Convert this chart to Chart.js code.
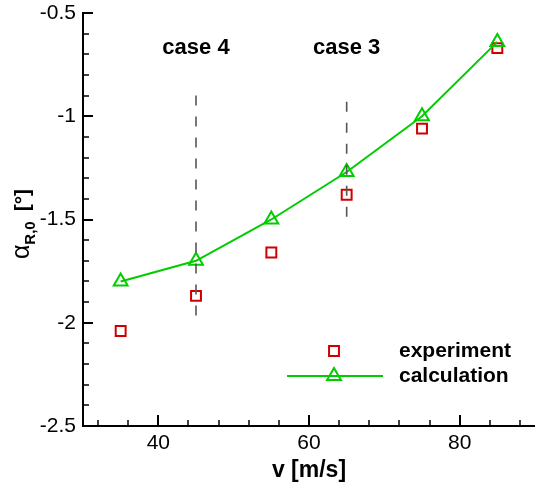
<!DOCTYPE html>
<html>
<head>
<meta charset="utf-8">
<script src="https://cdn.jsdelivr.net/npm/chart.js@4.4.0/dist/chart.umd.min.js"></script>
<style>
  html, body { margin: 0; padding: 0; background: #fff; overflow: hidden; }
  canvas { display: block; }
</style>
</head>
<body>
<canvas id="alphaChart" width="535" height="484"></canvas>
<script>
// speeds and angles
const speeds = [35, 45, 55, 65, 75, 85];
const experiment = [-2.04, -1.87, -1.66, -1.38, -1.06, -0.67];
const calculation = [-1.80, -1.70, -1.50, -1.27, -1.00, -0.64];

// dashed markers for the two cases
const case4Line = [{ x: 45, y: -0.9 }, { x: 45, y: -2.0 }];
const case3Line = [{ x: 65, y: -0.93 }, { x: 65, y: -1.5 }];
const caseLabels = [
    { text: 'case 4', x: 45, y: -0.67 },
    { text: 'case 3', x: 65, y: -0.67 }
];

// axis ticks
const xMajorTicks = [40, 60, 80];
const xMinorTicks = [32, 36, 44, 48, 52, 56, 64, 68, 72, 76, 84, 88];
const yMajorTicks = [-0.5, -1, -1.5, -2, -2.5];
const yMinorTicks = [-0.6, -0.7, -0.8, -0.9, -1.1, -1.2, -1.3, -1.4, -1.6, -1.7, -1.8, -1.9, -2.1, -2.2, -2.3, -2.4];

const RED = '#d00000';
const GREEN = '#00cc00';
const FONT = "'Liberation Sans', Arial, Helvetica, sans-serif";

function toPoints(xs, ys) {
    return xs.map((x, i) => ({ x: x, y: ys[i] }));
}

// 눈금 (안쪽으로)
const tickMarks = {
    id: 'tickMarks',
    afterDraw(chart) {
        const ctx = chart.ctx;
        const xs = chart.scales.x;
        const ys = chart.scales.y;
        const left = chart.chartArea.left;
        const bottom = chart.chartArea.bottom;
        ctx.save();
        ctx.strokeStyle = '#000';
        const draw = (list, len, w, vertical) => {
            ctx.lineWidth = w;
            list.forEach(v => {
                ctx.beginPath();
                if (vertical) {
                    const px = Math.round(xs.getPixelForValue(v));
                    ctx.moveTo(px, bottom);
                    ctx.lineTo(px, bottom - len);
                } else {
                    const py = Math.round(ys.getPixelForValue(v));
                    ctx.moveTo(left, py);
                    ctx.lineTo(left + len, py);
                }
                ctx.stroke();
            });
        };
        draw(xMajorTicks, 11, 2, true);
        draw(xMinorTicks, 6, 1.5, true);
        draw(yMajorTicks, 10, 2, false);
        draw(yMinorTicks, 6, 1.5, false);
        ctx.restore();
    }
};

// 텍스트 주석, 범례, y축 제목
const annotations = {
    id: 'annotations',
    afterDraw(chart) {
        const ctx = chart.ctx;
        const xs = chart.scales.x;
        const ys = chart.scales.y;
        ctx.save();
        ctx.fillStyle = '#000';
        ctx.textAlign = 'center';
        ctx.textBaseline = 'middle';
        ctx.font = 'bold 22px ' + FONT;
        caseLabels.forEach(c => {
            ctx.fillText(c.text, xs.getPixelForValue(c.x), ys.getPixelForValue(c.y));
        });

        // 범례
        const exp = chart.data.datasets[0];
        const calc = chart.data.datasets[1];
        ctx.textAlign = 'left';
        ctx.font = 'bold 21px ' + FONT;
        ctx.fillText(exp.label, 399, 351);
        ctx.fillText(calc.label, 399, 376);
        ctx.strokeStyle = calc.borderColor;
        ctx.lineWidth = calc.borderWidth;
        ctx.beginPath();
        ctx.moveTo(287, 376);
        ctx.lineTo(383, 376);
        ctx.stroke();
        ctx.fillStyle = 'rgba(255,255,255,0)';
        ctx.lineWidth = 2;
        ctx.strokeStyle = exp.pointBorderColor;
        Chart.helpers.drawPoint(ctx, { pointStyle: 'rect', radius: exp.pointRadius, borderWidth: 2 }, 334, 351);
        ctx.strokeStyle = calc.pointBorderColor;
        Chart.helpers.drawPoint(ctx, { pointStyle: 'triangle', radius: calc.pointRadius, borderWidth: 2 }, 334, 376);

        // y축 제목: α_R,0 [°]
        ctx.fillStyle = '#000';
        ctx.translate(29, 224);
        ctx.rotate(-Math.PI / 2);
        ctx.textBaseline = 'alphabetic';
        const mainFont = '25px ' + FONT;
        const subFont = 'bold 15px ' + FONT;
        const bracketFont = 'bold 21px ' + FONT;
        const gap = 10;
        ctx.font = mainFont;
        const wA = ctx.measureText('α').width;
        ctx.font = subFont;
        const wS = ctx.measureText('R,0').width;
        ctx.font = bracketFont;
        const wB = ctx.measureText('[°]').width;
        let x0 = -(wA + wS + gap + wB) / 2;
        ctx.font = mainFont;
        ctx.fillText('α', x0, 0);
        x0 += wA;
        ctx.font = subFont;
        ctx.fillText('R,0', x0, 6);
        x0 += wS + gap;
        ctx.font = bracketFont;
        ctx.fillText('[°]', x0, 0);
        ctx.restore();
    }
};

const ctx = document.getElementById('alphaChart').getContext('2d');
new Chart(ctx, {
    type: 'scatter',
    data: {
        datasets: [{
            label: 'experiment',
            data: toPoints(speeds, experiment),
            showLine: false,
            pointStyle: 'rect',
            pointRadius: 7,
            pointBorderWidth: 2,
            pointBorderColor: RED,
            pointBackgroundColor: 'rgba(255,255,255,0)',
            order: 2
        }, {
            label: 'calculation',
            data: toPoints(speeds, calculation),
            showLine: true,
            borderColor: GREEN,
            borderWidth: 2,
            pointStyle: 'triangle',
            pointRadius: 8,
            pointBorderWidth: 2,
            pointBorderColor: GREEN,
            pointBackgroundColor: 'rgba(255,255,255,0)',
            order: 1
        }, {
            label: 'case 4',
            data: case4Line,
            showLine: true,
            borderColor: '#555',
            borderWidth: 1.6,
            borderDash: [10, 11],
            pointRadius: 0
        }, {
            label: 'case 3',
            data: case3Line,
            showLine: true,
            borderColor: '#555',
            borderWidth: 1.6,
            borderDash: [10, 11],
            pointRadius: 0
        }]
    },
    options: {
        responsive: false,
        animation: false,
        layout: { autoPadding: false, padding: { top: 13, right: 0, left: 0, bottom: 0 } },
        plugins: {
            legend: { display: false },
            tooltip: { enabled: false }
        },
        scales: {
            x: {
                type: 'linear',
                min: 30,
                max: 90,
                afterBuildTicks: scale => { scale.ticks = xMajorTicks.map(v => ({ value: v })); },
                afterFit: scale => {
                    scale.height = 58;
                    scale.paddingLeft = 0;
                    scale.paddingRight = 0;
                },
                grid: { display: false, drawTicks: false },
                border: { display: true, color: '#000', width: 2 },
                ticks: {
                    padding: 5,
                    color: '#000',
                    font: { family: FONT, size: 21 }
                },
                title: {
                    display: true,
                    text: 'v [m/s]',
                    color: '#000',
                    padding: { top: 0, bottom: 0 },
                    font: { family: FONT, size: 23, weight: 'bold' }
                }
            },
            y: {
                type: 'linear',
                min: -2.5,
                max: -0.5,
                afterBuildTicks: scale => { scale.ticks = yMajorTicks.map(v => ({ value: v })); },
                afterFit: scale => {
                    scale.width = 83;
                    scale.paddingTop = 0;
                    scale.paddingBottom = 0;
                },
                grid: { display: false, drawTicks: false },
                border: { display: true, color: '#000', width: 2 },
                ticks: {
                    padding: 7,
                    color: '#000',
                    font: { family: FONT, size: 21 },
                    callback: v => String(v)
                }
            }
        }
    },
    plugins: [tickMarks, annotations]
});
</script>
</body>
</html>
